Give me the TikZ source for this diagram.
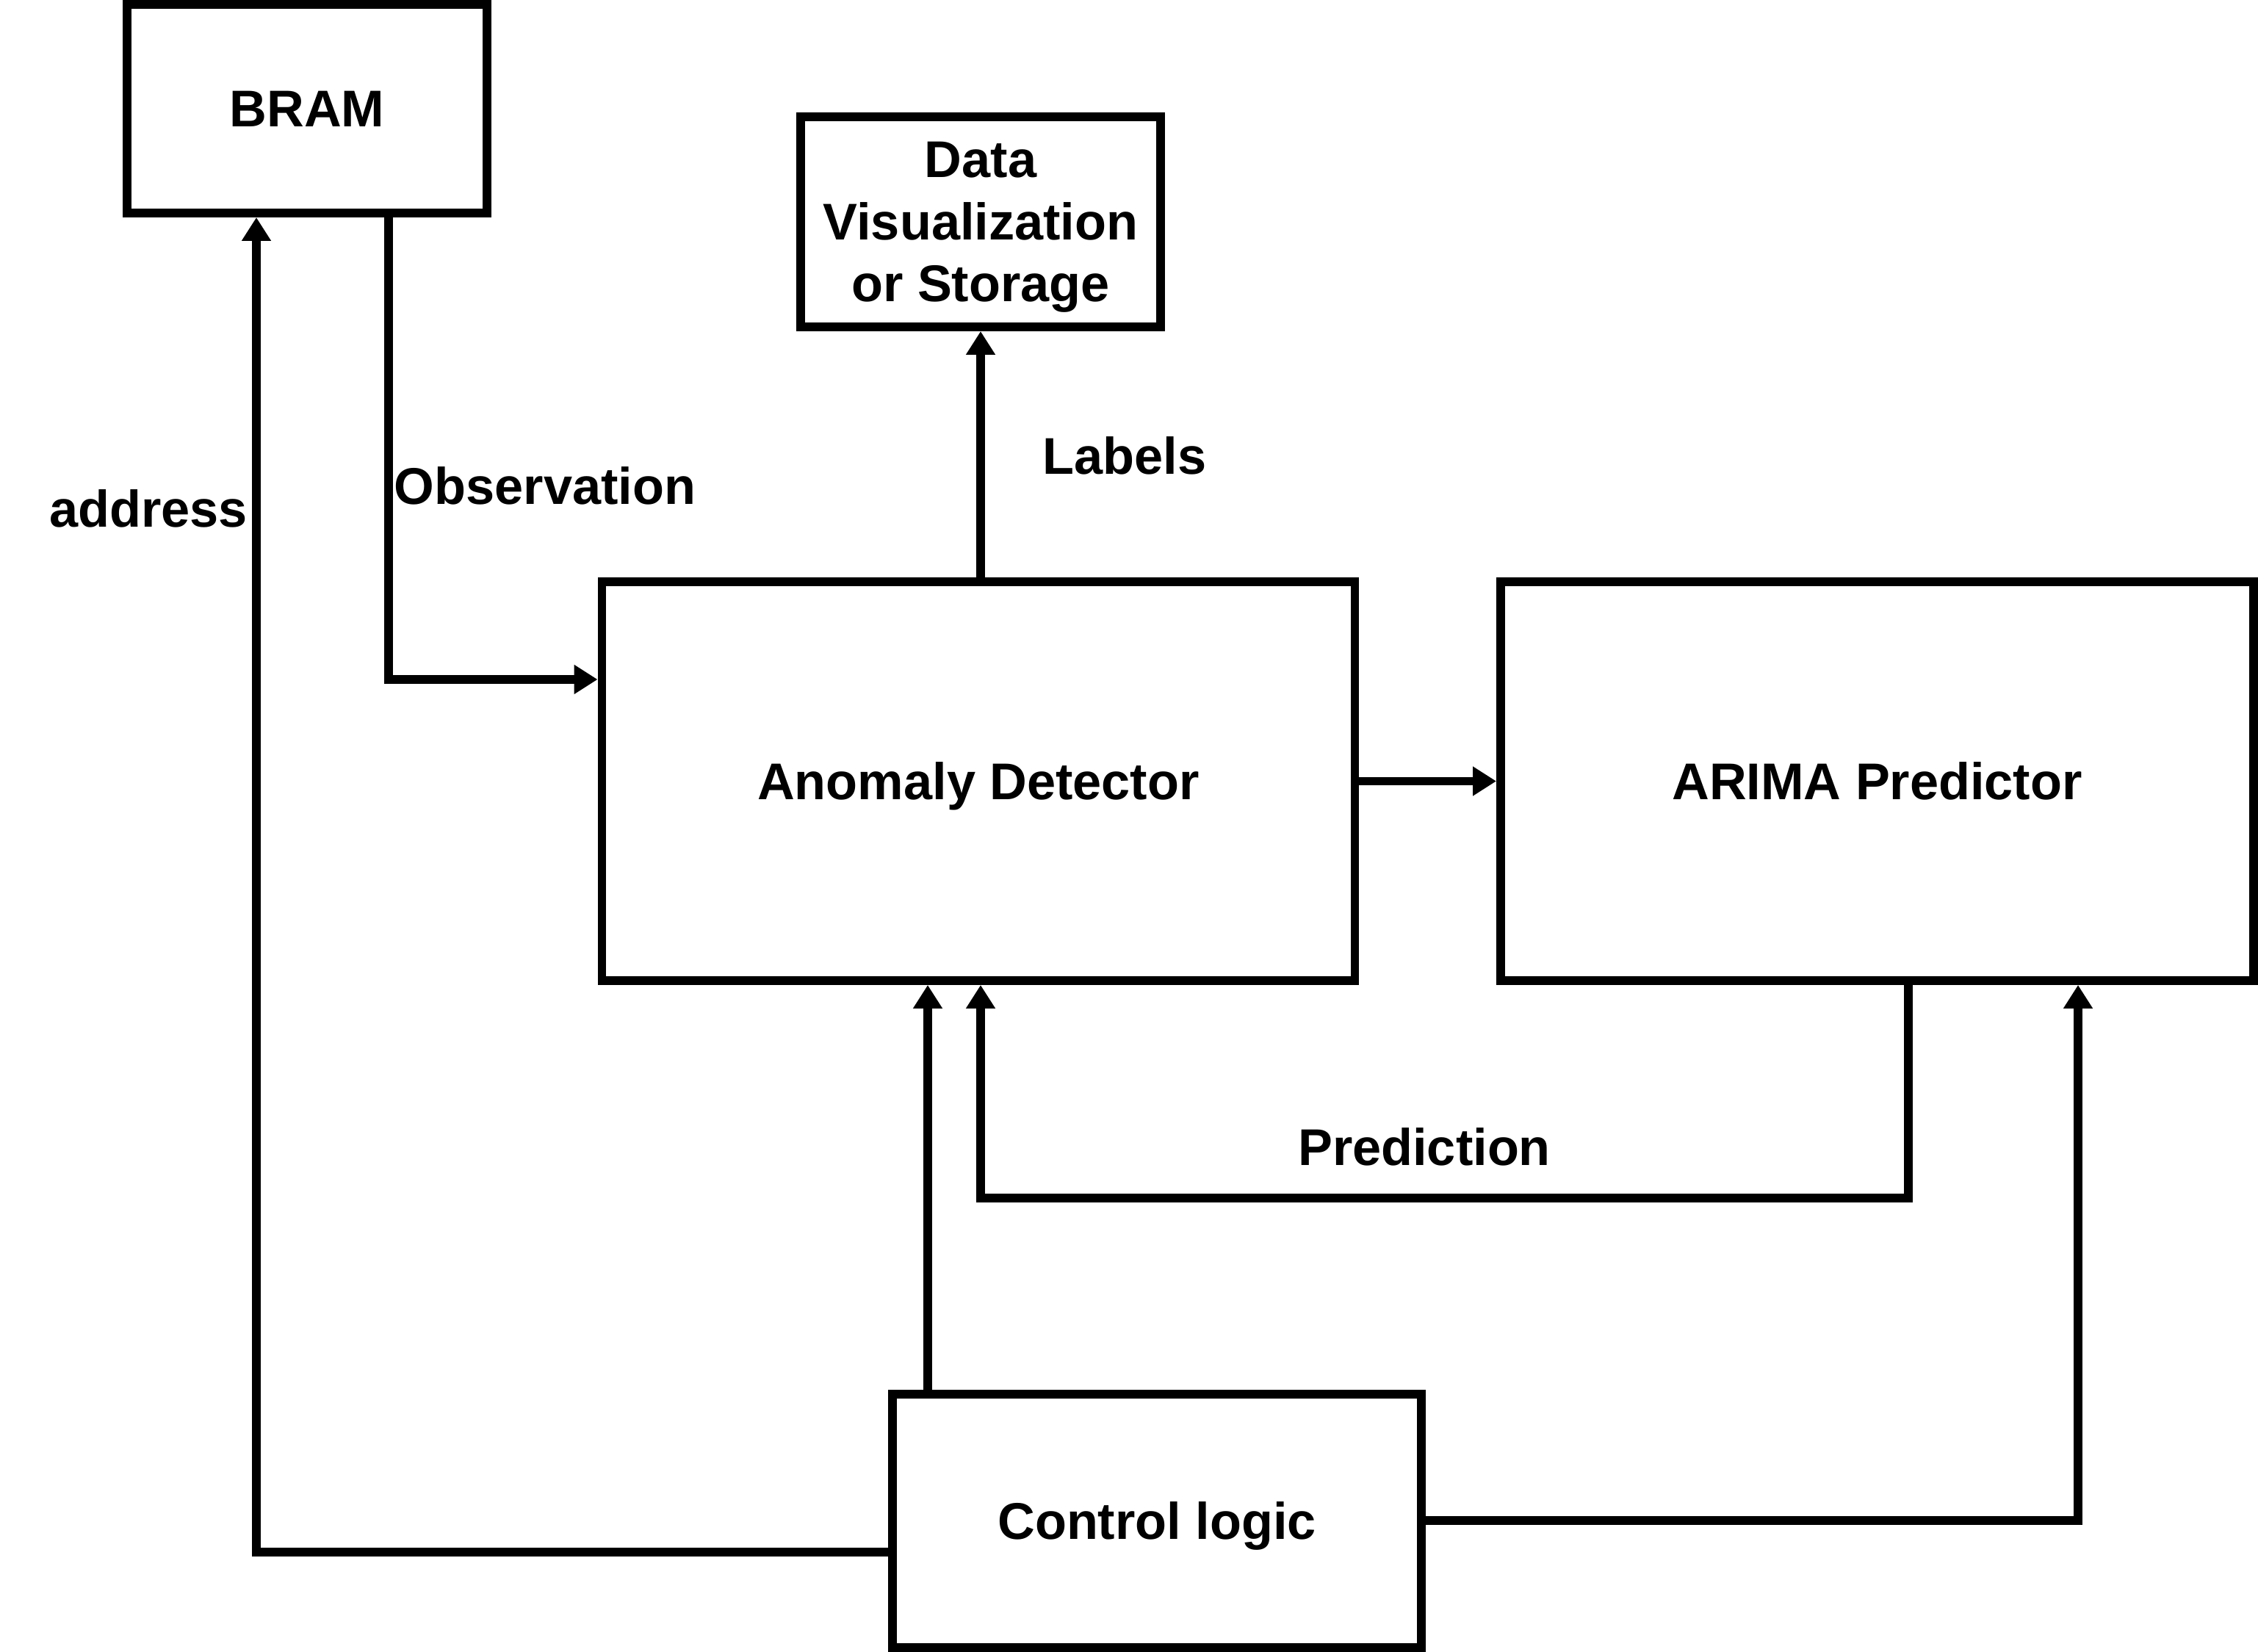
\documentclass[tikz,border=0pt]{standalone}
\usepackage{fontspec}
\setmainfont{Liberation Sans}
\usetikzlibrary{arrows.meta}

\begin{document}
\begin{tikzpicture}[line width=3.4pt,font=\bfseries\fontsize{20}{24}\selectfont,block/.style={draw,rectangle,align=center,inner sep=0pt,text depth=0pt}]
\tikzstyle{signal} = [draw,-{Triangle[length=0.32cm,width=0.38cm]}]
\useasboundingbox (0,0) rectangle (30.74,22.48);

% Blocks
\node[block,minimum width=4.90cm,minimum height=2.84cm] (bram) at (4.18,21.00) {BRAM};
\node[block,minimum width=4.90cm,minimum height=2.86cm] (store) at (13.35,19.46) {Data\\Visualization\\or Storage};
\node[block,minimum width=10.25cm,minimum height=5.43cm] (detector) at (13.32,11.845) {Anomaly Detector};
\node[block,minimum width=10.25cm,minimum height=5.43cm] (arima) at (25.555,11.845) {ARIMA Predictor};
\node[block,minimum width=7.20cm,minimum height=3.45cm] (control) at (15.75,1.777) {Control logic};

% Bends
\coordinate (addr) at (3.49,1.346);
\coordinate (obs) at (5.29,13.23);
\coordinate (predR) at (25.98,6.17);
\coordinate (predL) at (13.35,6.17);
\coordinate (ctrlA) at (12.63,1.777);
\coordinate (ctrlB) at (28.29,1.777);

% Draw signals
\draw[signal] (control.west |- addr) -- (addr) -- (bram.south -| addr);
\draw[signal] (bram.south -| obs) -- (obs) -- (detector.west |- obs);
\draw[signal] (store.south |- detector.north) -- (store.south);
\draw[signal] (detector.east) -- (arima.west);
\draw[signal] (arima.south -| predR) -- (predR) -- (predL) -- (detector.south -| predL);
\draw[signal] (control.north -| ctrlA) -- (detector.south -| ctrlA);
\draw[signal] (control.east |- ctrlB) -- (ctrlB) -- (arima.south -| ctrlB);

% Labels
\node (addrtext) at (2.02,15.56) {address};
\node (obstext) at (7.42,15.87) {Observation};
\node (labeltext) at (15.31,16.28) {Labels};
\node (predtext) at (19.39,6.87) {Prediction};

\end{tikzpicture}
\end{document}
